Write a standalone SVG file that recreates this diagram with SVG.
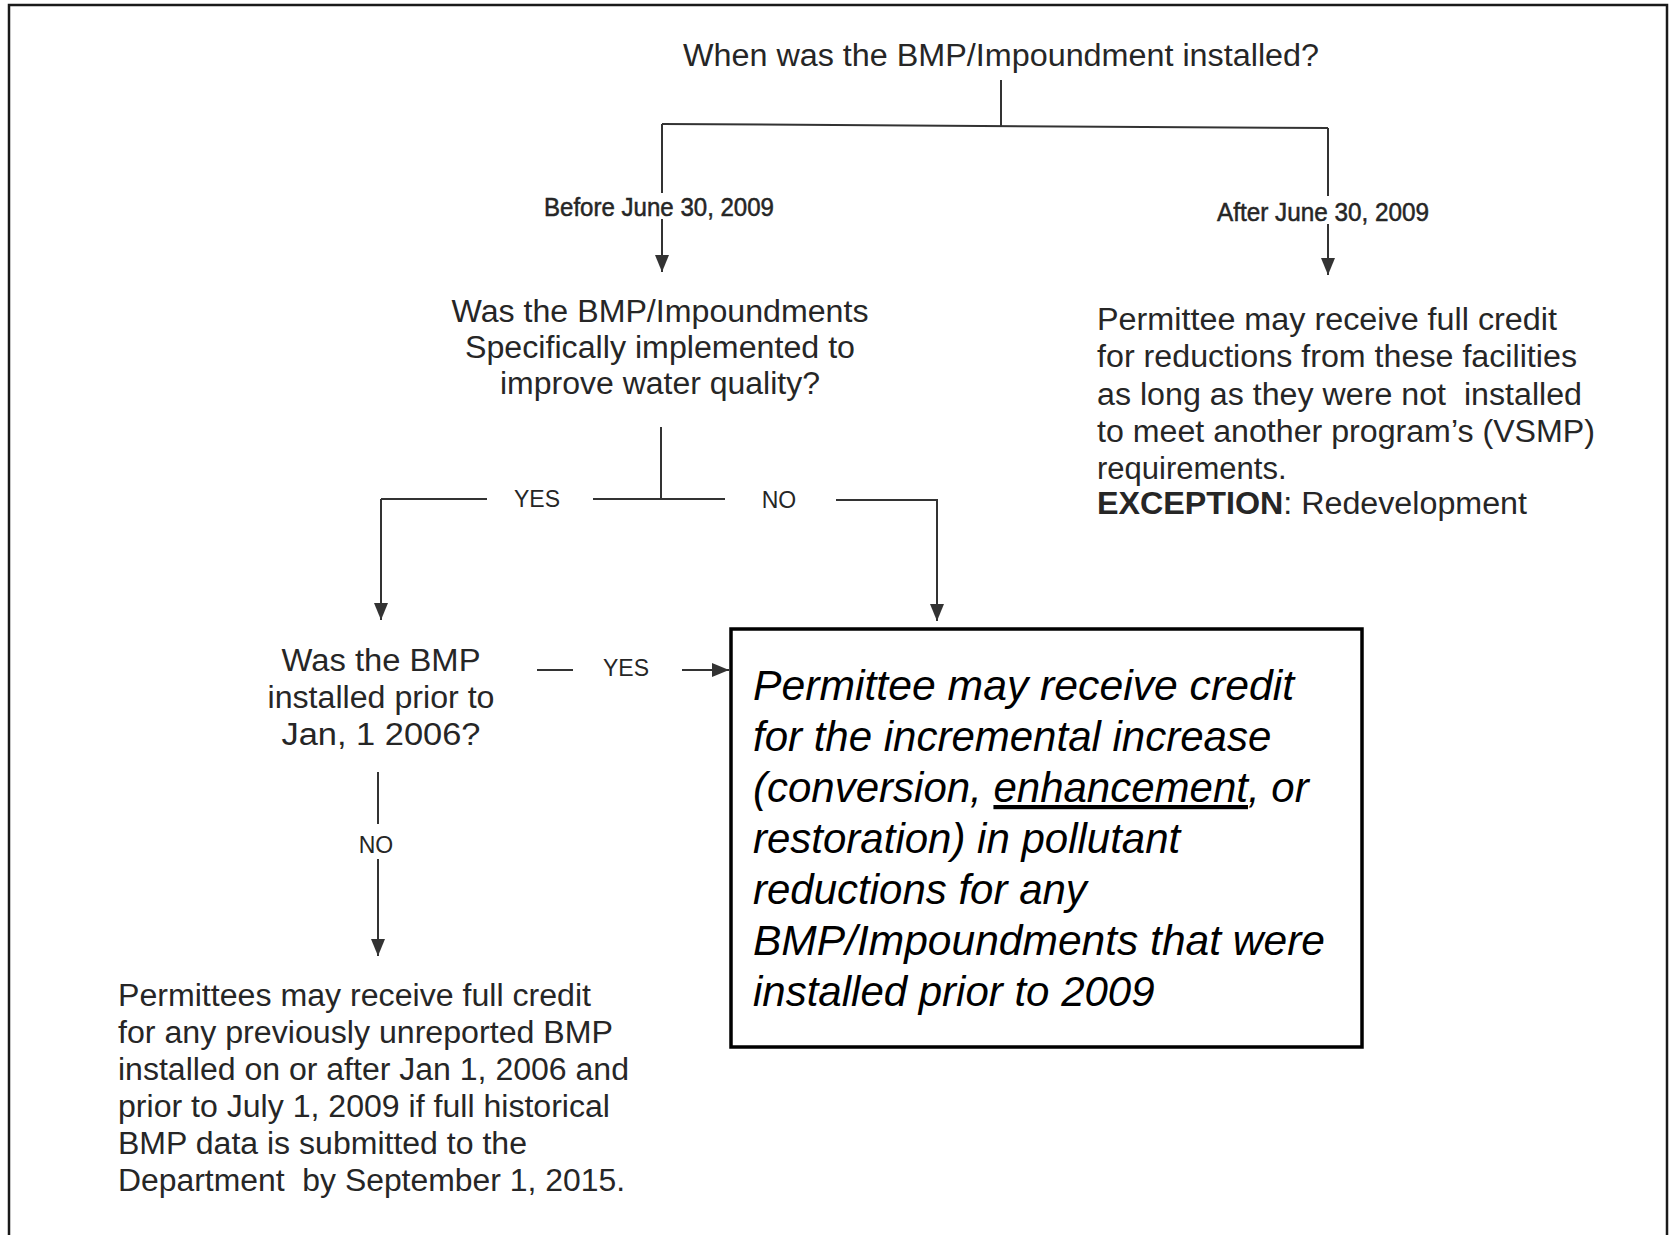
<svg xmlns="http://www.w3.org/2000/svg" width="1670" height="1235" viewBox="0 0 1670 1235">
<style>
.t{font-family:"Liberation Sans",Arial,sans-serif;fill:#262626}
.q{font-size:31px}
.lbl{font-size:25px;stroke:#262626;stroke-width:0.5}
.yn{font-size:23px}
.bx{font-family:"Liberation Sans",Arial,sans-serif;font-style:italic;font-size:42px;fill:#000}
.c{fill:none;stroke:#333;stroke-width:2}
</style>
<defs>
<marker id="ah" markerUnits="userSpaceOnUse" markerWidth="18" markerHeight="16" refX="17" refY="7.5" orient="auto" viewBox="0 0 18 16">
<path d="M0,0.5 L17,7.5 L0,14.5 Z" fill="#333"/>
</marker>
</defs>
<rect x="0" y="0" width="1670" height="1235" fill="#fff"/>
<rect x="9" y="5" width="1658" height="1260" fill="none" stroke="#1a1a1a" stroke-width="2.5"/>

<g id="connectors">
<line class="c" x1="1001" y1="80" x2="1001" y2="126"/>
<line class="c" x1="662" y1="124" x2="1328" y2="128" stroke-width="3"/>
<line class="c" x1="662" y1="124" x2="662" y2="193"/>
<line class="c" x1="662" y1="219" x2="662" y2="272" marker-end="url(#ah)"/>
<line class="c" x1="1328" y1="128" x2="1328" y2="196"/>
<line class="c" x1="1328" y1="224" x2="1328" y2="275" marker-end="url(#ah)"/>
<line class="c" x1="661" y1="427" x2="661" y2="499"/>
<line class="c" x1="381" y1="499" x2="487" y2="499"/>
<polyline class="c" points="381,499 381,620" marker-end="url(#ah)"/>
<line class="c" x1="593" y1="499" x2="725" y2="499"/>
<polyline class="c" points="836,500 937,500 937,621" marker-end="url(#ah)"/>
<line class="c" x1="537" y1="670" x2="573" y2="670"/>
<line class="c" x1="682" y1="670" x2="729" y2="670" marker-end="url(#ah)"/>
<line class="c" x1="378" y1="772" x2="378" y2="824"/>
<line class="c" x1="378" y1="859" x2="378" y2="956" marker-end="url(#ah)"/>
</g>

<g id="n-title">
<text class="t" x="1001" y="66" font-size="31" text-anchor="middle" textLength="636" lengthAdjust="spacingAndGlyphs">When was the BMP/Impoundment installed?</text>
</g>
<g id="lbl-before">
<text class="t lbl" x="659" y="216" text-anchor="middle" textLength="230" lengthAdjust="spacingAndGlyphs">Before June 30, 2009</text>
</g>
<g id="lbl-after">
<text class="t lbl" x="1323" y="221" text-anchor="middle" textLength="212" lengthAdjust="spacingAndGlyphs">After June 30, 2009</text>
</g>
<g id="n-q2">
<text class="t q" x="660" y="322" text-anchor="middle" textLength="417" lengthAdjust="spacingAndGlyphs">Was the BMP/Impoundments</text>
<text class="t q" x="660" y="358" text-anchor="middle" textLength="390" lengthAdjust="spacingAndGlyphs">Specifically implemented to</text>
<text class="t q" x="660" y="394" text-anchor="middle" textLength="320" lengthAdjust="spacingAndGlyphs">improve water quality?</text>
</g>
<g id="n-after">
<text class="t q" x="1097" y="330" textLength="460" lengthAdjust="spacingAndGlyphs">Permittee may receive full credit</text>
<text class="t q" x="1097" y="367" textLength="480" lengthAdjust="spacingAndGlyphs">for reductions from these facilities</text>
<text class="t q" x="1097" y="405" textLength="485" lengthAdjust="spacingAndGlyphs" xml:space="preserve">as long as they were not  installed</text>
<text class="t q" x="1097" y="442" textLength="498" lengthAdjust="spacingAndGlyphs">to meet another program’s (VSMP)</text>
<text class="t q" x="1097" y="479">requirements.</text>
<text class="t q" x="1097" y="514" textLength="430" lengthAdjust="spacingAndGlyphs"><tspan font-weight="bold">EXCEPTION</tspan>: Redevelopment</text>
</g>
<g id="lbl-yes1"><text class="t yn" x="537" y="507" text-anchor="middle">YES</text></g>
<g id="lbl-no1"><text class="t yn" x="779" y="508" text-anchor="middle">NO</text></g>
<g id="n-q3">
<text class="t q" x="381" y="671" text-anchor="middle" textLength="199" lengthAdjust="spacingAndGlyphs">Was the BMP</text>
<text class="t q" x="381" y="708" text-anchor="middle" textLength="227" lengthAdjust="spacingAndGlyphs">installed prior to</text>
<text class="t q" x="381" y="745" text-anchor="middle" textLength="199" lengthAdjust="spacingAndGlyphs">Jan, 1 2006?</text>
</g>
<g id="lbl-yes2"><text class="t yn" x="626" y="676" text-anchor="middle">YES</text></g>
<g id="lbl-no2"><text class="t yn" x="376" y="853" text-anchor="middle">NO</text></g>
<g id="n-incremental">
<rect x="731" y="629" width="631" height="418" fill="#fff" stroke="#000" stroke-width="3.5"/>
<text class="bx" x="753" y="700" textLength="541" lengthAdjust="spacingAndGlyphs">Permittee may receive credit</text>
<text class="bx" x="753" y="751">for the incremental increase</text>
<text class="bx" x="753" y="802">(conversion, <tspan text-decoration="underline">enhancement</tspan>, or</text>
<text class="bx" x="753" y="853">restoration) in pollutant</text>
<text class="bx" x="753" y="904">reductions for any</text>
<text class="bx" x="753" y="955" textLength="572" lengthAdjust="spacingAndGlyphs">BMP/Impoundments that were</text>
<text class="bx" x="753" y="1006">installed prior to 2009</text>
</g>
<g id="n-fullcredit">
<text class="t q" x="118" y="1006" textLength="473" lengthAdjust="spacingAndGlyphs">Permittees may receive full credit</text>
<text class="t q" x="118" y="1043" textLength="495" lengthAdjust="spacingAndGlyphs">for any previously unreported BMP</text>
<text class="t q" x="118" y="1080" textLength="511" lengthAdjust="spacingAndGlyphs">installed on or after Jan 1, 2006 and</text>
<text class="t q" x="118" y="1117" textLength="492" lengthAdjust="spacingAndGlyphs">prior to July 1, 2009 if full historical</text>
<text class="t q" x="118" y="1154" textLength="409" lengthAdjust="spacingAndGlyphs">BMP data is submitted to the</text>
<text class="t q" x="118" y="1191" textLength="507" lengthAdjust="spacingAndGlyphs" xml:space="preserve">Department  by September 1, 2015.</text>
</g>
</svg>
